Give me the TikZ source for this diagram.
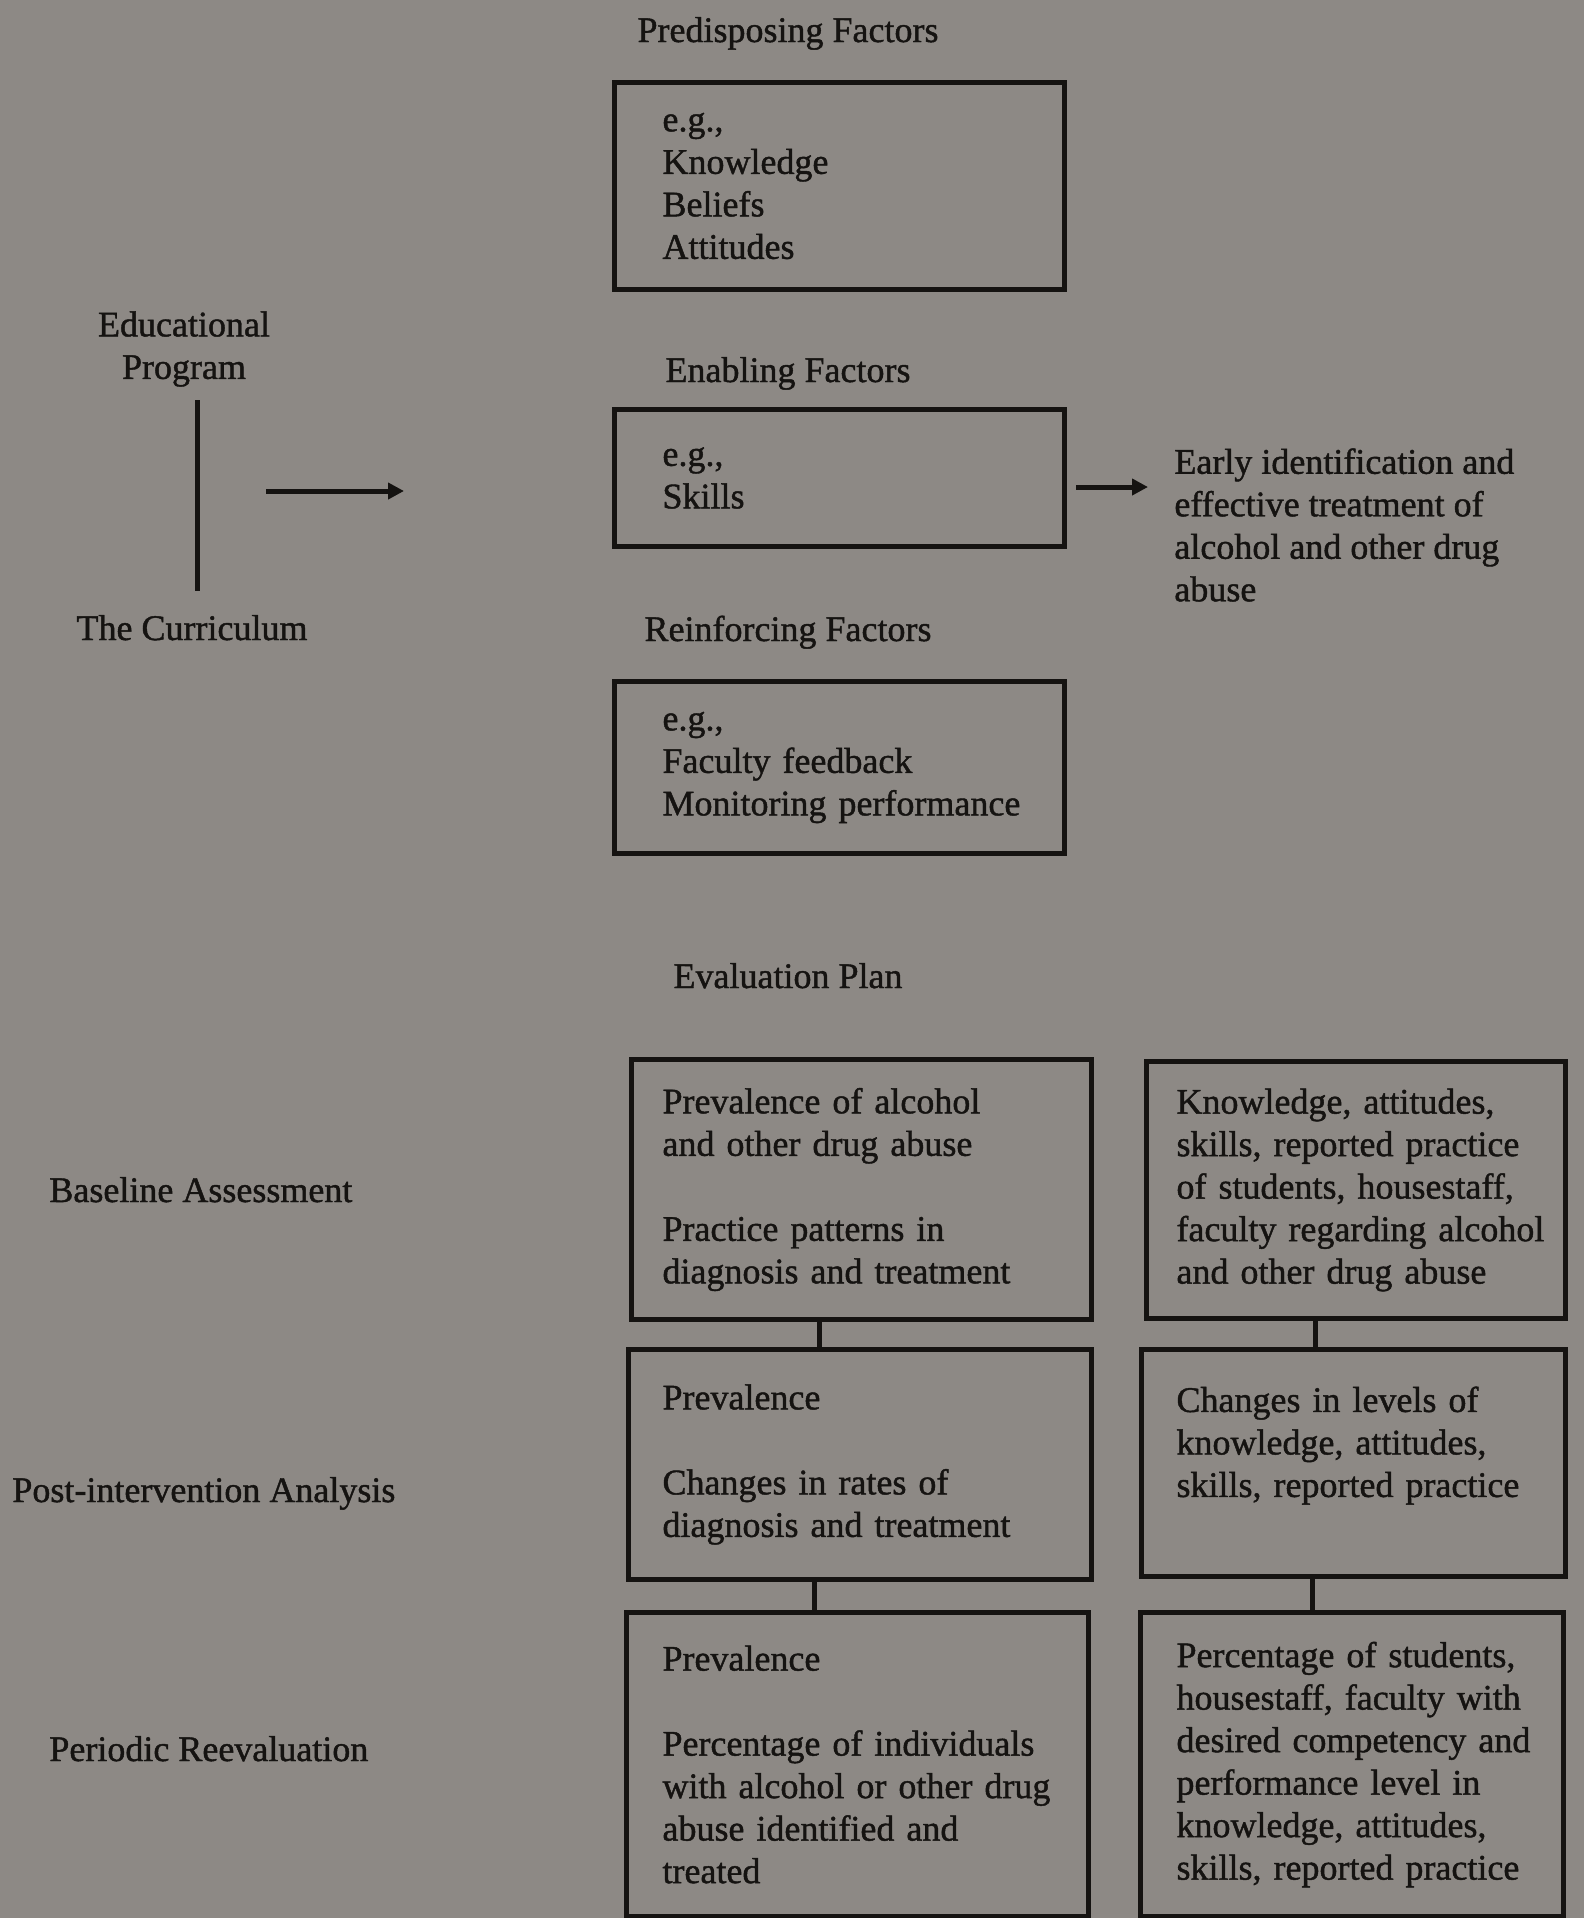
\documentclass[tikz,border=0pt]{standalone}
\usepackage{fontspec}
\setmainfont{Liberation Serif}[FakeBold=1.2]
\usetikzlibrary{arrows.meta}
\definecolor{bg}{HTML}{8D8985}
\definecolor{ink}{HTML}{151311}
\begin{document}
\begin{tikzpicture}[x=0.5pt,y=-0.5pt,
  every node/.style={text=ink, font=\fontsize{18}{21.25}\selectfont,
    execute at begin node={\hyphenpenalty=10000 \exhyphenpenalty=10000 \hbadness=10000 \hfuzz=200pt}},
  lbl/.style={inner sep=0pt, anchor=base},
  lblw/.style={inner sep=0pt, anchor=base west},
  box/.style={draw=ink, line width=2.5pt, anchor=north west, align=left, inner ysep=0pt},
  link/.style={draw=ink, line width=2.5pt},
  arr/.style={draw=ink, line width=2.5pt, -{Triangle[length=8pt,width=8pt]}}
]
\fill[bg] (0,0) rectangle (1584,1918);
\useasboundingbox (0,0) rectangle (1584,1918);

% ---------- upper part ----------
\node[lbl] (predT) at (788,42) {Predisposing Factors};
\node[box, minimum width=225pt, minimum height=103.5pt, inner xsep=24pt, text width=177pt]
  (pred) at (612,80) {e.g.,\\Knowledge\\Beliefs\\Attitudes};

\node[lbl] (enabT) at (788,382) {Enabling Factors};
\node[box, minimum width=225pt, minimum height=68.5pt, inner xsep=24pt, text width=177pt]
  (enab) at (612,407) {e.g.,\\Skills};

\node[lbl] (reinT) at (788,641) {Reinforcing Factors};
\node[box, minimum width=225pt, minimum height=86pt, inner xsep=24pt, text width=177pt]
  (rein) at (612,679) {e.g.,\\Faculty~feedback\\Monitoring~performance};

\node[inner sep=0pt, anchor=north, align=center] (prog) at (184,311) {Educational\\Program};
\node[lbl] (curr) at (192,640) {The Curriculum};
\coordinate (vt) at (197,400);
\coordinate (vb) at (197,591);
\draw[link] (vt) -- (vb);

\coordinate (la1) at (266,491);
\coordinate (la2) at (404,491);
\draw[arr] (la1) -- (la2);

\node[inner sep=0pt, anchor=north west, align=left] (outc) at (1174,448)
  {Early identification and\\effective treatment of\\alcohol and other drug\\abuse};
\coordinate (ra1) at (1076,487);
\coordinate (ra2) at (1148,487);
\draw[arr] (ra1) -- (ra2);

% ---------- evaluation plan ----------
\node[lbl] (evalT) at (788,988) {Evaluation Plan};

\node[lblw] (base) at (49,1202) {Baseline Assessment};
\node[lblw] (post) at (12,1502) {Post-intervention Analysis};
\node[lblw] (peri) at (49,1761) {Periodic Reevaluation};

\node[box, minimum width=230pt, minimum height=130pt, inner xsep=15.5pt, text width=199pt]
  (evA) at (629,1057)
  {Prevalence~of~alcohol\\and~other~drug~abuse\\[21.25pt]Practice~patterns~in\\diagnosis~and~treatment};
\node[box, minimum width=209.5pt, minimum height=128.5pt, inner xsep=15pt, text width=179.5pt]
  (evB) at (1144,1059)
  {Knowledge,~attitudes,\\skills,~reported~practice\\of~students,~housestaff,\\faculty~regarding~alcohol\\and~other~drug~abuse};

\node[box, minimum width=231.5pt, minimum height=115pt, inner xsep=17pt, text width=197.5pt]
  (evC) at (626,1347)
  {Prevalence\\[21.25pt]Changes~in~rates~of\\diagnosis~and~treatment};
\node[box, minimum width=212pt, minimum height=113.5pt, inner xsep=17.5pt, text width=177pt]
  (evD) at (1139,1347)
  {Changes~in~levels~of\\knowledge,~attitudes,\\skills,~reported~practice\\\mbox{}};

\node[box, minimum width=231pt, minimum height=152pt, inner xsep=18pt, text width=195pt]
  (evE) at (624,1610)
  {Prevalence\\[21.25pt]Percentage~of~individuals\\with~alcohol~or~other~drug\\abuse~identified~and\\treated};
\node[box, minimum width=211.5pt, minimum height=152pt, inner xsep=18pt, text width=175.5pt]
  (evF) at (1138,1610)
  {Percentage~of~students,\\housestaff,~faculty~with\\desired~competency~and\\performance~level~in\\knowledge,~attitudes,\\skills,~reported~practice};

\coordinate (cA) at ([xshift=-21pt]evA.south);
\draw[link] (cA) -- (cA |- evC.north);
\coordinate (cC) at ([xshift=-23pt]evC.south);
\draw[link] (cC) -- (cC |- evE.north);
\coordinate (cB) at ([xshift=-20.5pt]evB.south);
\draw[link] (cB) -- (cB |- evD.north);
\coordinate (cD) at ([xshift=-20.5pt]evD.south);
\draw[link] (cD) -- (cD |- evF.north);
\end{tikzpicture}
\end{document}
